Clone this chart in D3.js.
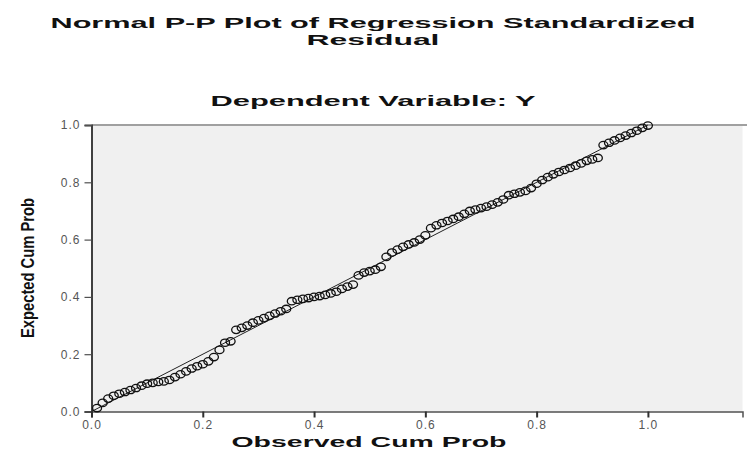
<!DOCTYPE html>
<html>
<head>
<meta charset="utf-8">
<script src="https://cdn.jsdelivr.net/npm/d3@7/dist/d3.min.js"></script>
<style>
  html, body { margin: 0; padding: 0; background: #ffffff; }
  svg { display: block; }
</style>
</head>
<body>
<script>
// ---- data ----
const observed = [0.01,0.02,0.03,0.04,0.05,0.06,0.07,0.08,0.09,0.10,
  0.11,0.12,0.13,0.14,0.15,0.16,0.17,0.18,0.19,0.20,
  0.21,0.22,0.23,0.24,0.25,0.26,0.27,0.28,0.29,0.30,
  0.31,0.32,0.33,0.34,0.35,0.36,0.37,0.38,0.39,0.40,
  0.41,0.42,0.43,0.44,0.45,0.46,0.47,0.48,0.49,0.50,
  0.51,0.52,0.53,0.54,0.55,0.56,0.57,0.58,0.59,0.60,
  0.61,0.62,0.63,0.64,0.65,0.66,0.67,0.68,0.69,0.70,
  0.71,0.72,0.73,0.74,0.75,0.76,0.77,0.78,0.79,0.80,
  0.81,0.82,0.83,0.84,0.85,0.86,0.87,0.88,0.89,0.90,
  0.91,0.92,0.93,0.94,0.95,0.96,0.97,0.98,0.99,1.00];
const expected = [0.012,0.030,0.045,0.055,0.062,0.068,0.075,0.082,0.090,0.097,
  0.100,0.103,0.105,0.110,0.120,0.130,0.140,0.150,0.158,0.165,
  0.175,0.190,0.215,0.240,0.245,0.285,0.292,0.300,0.310,0.318,
  0.326,0.334,0.342,0.350,0.358,0.385,0.390,0.393,0.396,0.400,
  0.403,0.407,0.412,0.418,0.428,0.436,0.443,0.475,0.485,0.490,
  0.495,0.505,0.540,0.555,0.565,0.575,0.583,0.590,0.600,0.615,
  0.640,0.650,0.658,0.665,0.672,0.680,0.690,0.700,0.705,0.710,
  0.715,0.722,0.730,0.740,0.755,0.760,0.765,0.770,0.780,0.795,
  0.808,0.818,0.828,0.836,0.843,0.850,0.858,0.866,0.875,0.880,
  0.885,0.930,0.938,0.946,0.955,0.963,0.972,0.980,0.990,0.998];
const xTicks = [0.0, 0.2, 0.4, 0.6, 0.8, 1.0];
const yTicks = [0.0, 0.2, 0.4, 0.6, 0.8, 1.0];
const titleLines = ["Normal P-P Plot of Regression Standardized", "Residual"];
const subtitle = "Dependent Variable: Y";
const xTitle = "Observed Cum Prob";
const yTitle = "Expected Cum Prob";

// ---- layout ----
const W = 747, H = 454;
const mLeft = 91.5, mRight = 742.5, mTop = 125, mBottom = 411.5;

const svg = d3.select("body").append("svg").attr("width", W).attr("height", H);

const x = d3.scaleLinear().domain([0, 1.17]).range([mLeft, mRight]);
const y = d3.scaleLinear().domain([0, 1]).range([mBottom, mTop]);

// plot background
svg.append("rect").attr("x", mLeft).attr("y", mTop)
  .attr("width", mRight - mLeft).attr("height", mBottom - mTop)
  .attr("fill", "#f0f0f0");

// top border
svg.append("line").attr("x1", mLeft).attr("x2", W).attr("y1", mTop).attr("y2", mTop)
  .attr("stroke", "#a0a0a0").attr("stroke-width", 2);

const tickFont = "Liberation Sans, Arial, sans-serif";

// y axis
const yAxis = d3.axisLeft(y).tickValues(yTicks).tickFormat(d3.format(".1f"))
  .tickSize(7).tickPadding(4);
const gy = svg.append("g").attr("transform", `translate(${mLeft},0)`).call(yAxis);
gy.select(".domain").attr("stroke", "#404040").attr("stroke-width", 2);
gy.selectAll(".tick line").attr("stroke", "#505050").attr("stroke-width", 1.2);
gy.selectAll(".tick text").attr("font-family", tickFont)
  .attr("font-size", 12).attr("fill", "#555").attr("letter-spacing", 1);

// x axis
const xAxis = d3.axisBottom(x).tickValues(xTicks).tickFormat(d3.format(".1f"))
  .tickSize(6).tickPadding(3);
const gx = svg.append("g").attr("transform", `translate(0,${mBottom})`).call(xAxis);
gx.select(".domain").attr("stroke", "#505050").attr("stroke-width", 1.5);
gx.selectAll(".tick line").attr("stroke", "#303030").attr("stroke-width", 2);
gx.selectAll(".tick text").attr("font-family", tickFont)
  .attr("font-size", 12).attr("fill", "#555").attr("letter-spacing", 1);

// reference diagonal
svg.append("line")
  .attr("x1", x(0)).attr("y1", y(0)).attr("x2", x(1)).attr("y2", y(1))
  .attr("stroke", "#222").attr("stroke-width", 1);

// points (slightly wide open ovals, as in the reference)
const pts = observed.map((o, i) => ({o, e: expected[i]}));
svg.append("g").selectAll("ellipse").data(pts).join("ellipse")
  .attr("cx", d => x(d.o)).attr("cy", d => y(d.e)).attr("rx", 4.5).attr("ry", 3.7)
  .attr("fill", "none").attr("stroke", "#111").attr("stroke-width", 1.3);

// titles
const tf = "Liberation Sans, Arial, sans-serif";
function addTitle(txt, xx, yy, size, len) {
  svg.append("text").attr("x", xx).attr("y", yy).attr("text-anchor", "middle")
    .attr("font-family", tf).attr("font-weight", "bold").attr("font-size", size)
    .attr("fill", "#111").attr("textLength", len).attr("lengthAdjust", "spacingAndGlyphs")
    .text(txt);
}
addTitle(titleLines[0], 373, 28, 15.5, 645);
addTitle(titleLines[1], 373, 45, 15.5, 133);
addTitle(subtitle, 373, 106, 15.5, 325);
addTitle(xTitle, 369, 447, 15, 275);
svg.append("text").attr("transform", "translate(34,268) rotate(-90)")
  .attr("text-anchor", "middle")
  .attr("font-family", tf).attr("font-weight", "bold").attr("font-size", 19)
  .attr("fill", "#111").attr("textLength", 140).attr("lengthAdjust", "spacingAndGlyphs")
  .text(yTitle);
</script>
</body>
</html>
